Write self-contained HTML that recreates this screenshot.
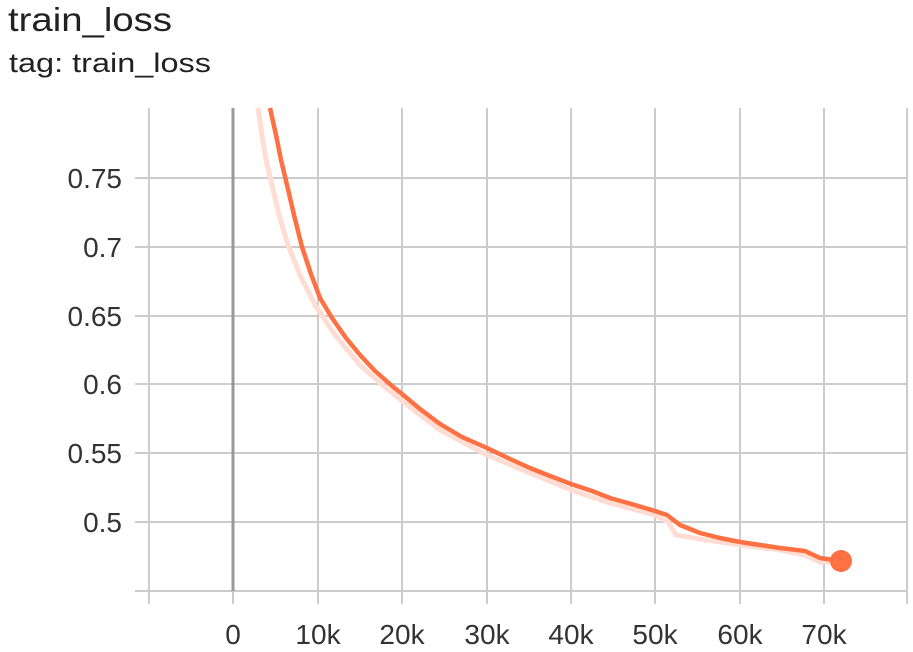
<!DOCTYPE html>
<html><head><style>
body{margin:0;background:#fff;width:913px;height:652px;overflow:hidden;font-family:"Liberation Sans",sans-serif;}
</style></head><body>
<svg width="913" height="652" xmlns="http://www.w3.org/2000/svg" style="position:absolute;left:0;top:0">
<text x="8" y="31" font-size="33" fill="#212121" font-family="Liberation Sans, sans-serif" textLength="164" lengthAdjust="spacingAndGlyphs">train_loss</text>
<text x="9" y="72" font-size="27" fill="#212121" font-family="Liberation Sans, sans-serif" textLength="202" lengthAdjust="spacingAndGlyphs">tag: train_loss</text>
<g stroke="#cccccc" stroke-width="2">
<line x1="135" y1="178" x2="908" y2="178"/>
<line x1="135" y1="247" x2="908" y2="247"/>
<line x1="135" y1="316" x2="908" y2="316"/>
<line x1="135" y1="384" x2="908" y2="384"/>
<line x1="135" y1="453" x2="908" y2="453"/>
<line x1="135" y1="522" x2="908" y2="522"/>
<line x1="135" y1="591" x2="908" y2="591"/>
<line x1="149" y1="108" x2="149" y2="604"/>
<line x1="318" y1="108" x2="318" y2="604"/>
<line x1="402" y1="108" x2="402" y2="604"/>
<line x1="487" y1="108" x2="487" y2="604"/>
<line x1="571" y1="108" x2="571" y2="604"/>
<line x1="655" y1="108" x2="655" y2="604"/>
<line x1="740" y1="108" x2="740" y2="604"/>
<line x1="824" y1="108" x2="824" y2="604"/>
<line x1="907" y1="108" x2="907" y2="604"/>
</g>
<line x1="233" y1="108" x2="233" y2="591" stroke="#999" stroke-width="3"/>
<line x1="233" y1="591" x2="233" y2="604" stroke="#ccc" stroke-width="2"/>
<g font-size="28" fill="#333" text-anchor="end" font-family="Liberation Sans, sans-serif">
<text x="122" y="188">0.75</text><text x="122" y="257">0.7</text><text x="122" y="326">0.65</text>
<text x="122" y="394">0.6</text><text x="122" y="463">0.55</text><text x="122" y="532">0.5</text>
</g>
<g font-size="28" fill="#333" text-anchor="middle" font-family="Liberation Sans, sans-serif">
<text x="233" y="644">0</text><text x="318" y="644">10k</text><text x="402" y="644">20k</text>
<text x="487" y="644">30k</text><text x="571" y="644">40k</text><text x="655" y="644">50k</text>
<text x="740" y="644">60k</text><text x="824" y="644">70k</text>
</g>
<polyline fill="none" stroke="#ffddd2" stroke-width="5" stroke-linejoin="round" points="258,108 262,135 266,160 272,185 279,215 288,245 300,275 315,305 335,335 360,365 380,383 402,401 440,430 487,455 530,473 571,490 610,503 655,515 668,522 676,535 700,539 740,545 780,550 805,555 820,562 835,562"/>
<polyline fill="none" stroke="#ff7043" stroke-width="4.5" stroke-linejoin="round" points="270,108 276,135 281,160 287,185 294,215 302,247 311,274 320,298 332,318 346,338 360,355 375,371 392,386 402,394 420,409 440,424 462,437 487,448 510,459 530,468 550,476 571,484 592,491 610,498 635,505 655,511 667,515 680,525 700,533 720,538 740,542 760,545 780,548 805,551 820,558 841,561"/>
<circle cx="841" cy="561" r="11" fill="#ff7043"/>
</svg>
</body></html>
